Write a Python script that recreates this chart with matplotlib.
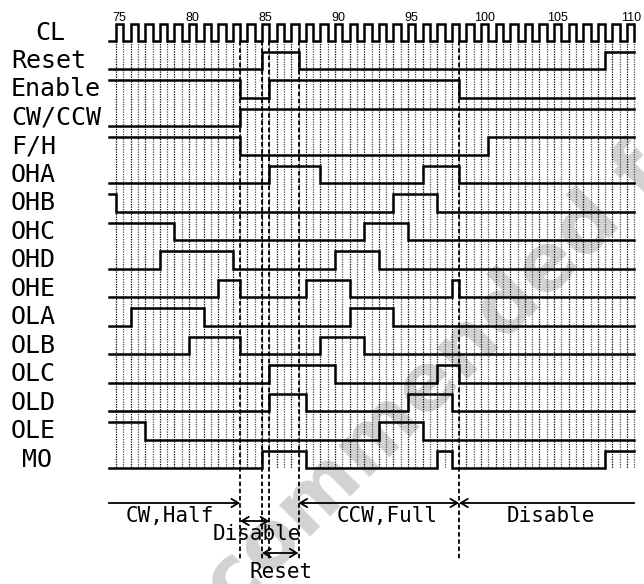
import matplotlib
matplotlib.use("Agg")
import matplotlib.pyplot as plt

# --- DATA ---
SIGNALS = ["CL", "Reset", "Enable", "CW/CCW", "F/H", "OHA", "OHB", "OHC",
           "OHD", "OHE", "OLA", "OLB", "OLC", "OLD", "OLE", "MO"]
CLOCK_CYCLES = list(range(75, 111))
TICK_CYCLES = [75, 80, 85, 90, 95, 100, 105, 110]
T_START, T_END = 74.5, 110.5

# initial level and times at which each signal toggles
INIT = {"Reset": 0, "Enable": 1, "CW/CCW": 0, "F/H": 1,
        "OHA": 0, "OHB": 1, "OHC": 1, "OHD": 0, "OHE": 0,
        "OLA": 0, "OLB": 0, "OLC": 0, "OLD": 0, "OLE": 1, "MO": 0}
TOGGLES = {
    "Reset":  [85.0, 87.5, 108.5],
    "Enable": [83.5, 85.5, 98.5],
    "CW/CCW": [83.5],
    "F/H":    [83.5, 100.5],
    "OHA":    [85.5, 89.0, 96.0, 98.5],
    "OHB":    [75.0, 94.0, 97.0],
    "OHC":    [79.0, 92.0, 95.0],
    "OHD":    [78.0, 83.0, 90.0, 93.0],
    "OHE":    [82.0, 83.5, 88.0, 91.0, 98.0, 98.5],
    "OLA":    [76.0, 81.0, 91.0, 94.0],
    "OLB":    [80.0, 83.5, 89.0, 92.0],
    "OLC":    [85.5, 90.0, 97.0, 98.5],
    "OLD":    [85.5, 88.0, 95.0, 98.0],
    "OLE":    [77.0, 93.0, 96.0],
    "MO":     [85.0, 88.0, 97.0, 98.0, 108.5],
}
MARKERS = [83.5, 85.0, 85.5, 87.5, 98.5]

# --- LAYOUT (pixel units on y, clock cycles on x) ---
W, H = 644, 584
PX_PER_CYCLE = 14.6
X_AT_75 = 116
ROW0, ROW_STEP, AMP = 41, 28.47, 17.5
MONO = "DejaVu Sans Mono"


def wave(init, toggles, start, end):
    xs, ys = [start], [init]
    lvl = init
    for t in toggles:
        xs += [t, t]
        ys += [lvl, 1 - lvl]
        lvl = 1 - lvl
    xs.append(end)
    ys.append(lvl)
    return xs, ys


fig = plt.figure(figsize=(W / 100, H / 100), dpi=100)
ax = fig.add_axes([0, 0, 1, 1])
t0 = 75 - X_AT_75 / PX_PER_CYCLE
ax.set_xlim(t0, t0 + W / PX_PER_CYCLE)
ax.set_ylim(H, 0)
ax.axis("off")

# watermark of the source document
wm = ax.text(t0 + 17 / PX_PER_CYCLE, 830, "Not Recommended for New Designs",
             rotation=45, rotation_mode="anchor", ha="left", va="baseline",
             fontsize=58, fontweight="bold", color="#d2d2d2", zorder=0.5,
             family="DejaVu Sans")
wm.set_clip_on(True)

last_row = ROW0 + ROW_STEP * (len(SIGNALS) - 1)

# grid lines on every clock edge
for n in CLOCK_CYCLES:
    ax.plot([n, n], [ROW0, last_row], color="0.0", lw=0.9,
            ls=(0, (1, 1)), zorder=1)
    ax.plot([n + 0.5, n + 0.5], [ROW0, last_row], color="0.3", lw=0.9,
            ls=(0, (1, 1)), zorder=1)

# dashed markers
for m in MARKERS:
    ax.plot([m, m], [ROW0, 560], color="black", lw=1.3,
            ls=(0, (2.5, 1.5)), zorder=2)

# clock
clk_toggles = []
for n in CLOCK_CYCLES:
    clk_toggles += [n, n + 0.5]
xs, ys = wave(0, clk_toggles, T_START, T_END)
ax.plot(xs, [ROW0 - AMP * y for y in ys], color="black", lw=1.8,
        solid_joinstyle="miter", zorder=3)
for n in TICK_CYCLES:
    ax.text(n + 0.25, 21, str(n), ha="center", va="baseline",
            fontsize=9, family="Liberation Sans")

# signals
for i, name in enumerate(SIGNALS[1:], start=1):
    base = ROW0 + ROW_STEP * i
    xs, ys = wave(INIT[name], TOGGLES[name], T_START, T_END)
    ax.plot(xs, [base - AMP * y for y in ys], color="black", lw=1.8,
            solid_joinstyle="miter", zorder=3)

# signal names
for i, name in enumerate(SIGNALS):
    base = ROW0 + ROW_STEP * i
    xpx = {"CL": 35, "MO": 22}.get(name, 11)
    ax.text(t0 + xpx / PX_PER_CYCLE, base - 1.5, name, ha="left",
            va="baseline", fontsize=18, family=MONO)

# mode annotations
def arrow(x1, x2, y, style):
    ax.annotate("", xy=(x2, y), xytext=(x1, y),
                arrowprops=dict(arrowstyle=style + ",head_length=0.5,head_width=0.3",
                                lw=1.3, color="black", shrinkA=0, shrinkB=0))


arrow(T_START, 83.5, 503, "->")
arrow(87.5, 98.5, 503, "<->")
arrow(98.5, T_END, 503, "<-")
arrow(83.5, 85.5, 521, "<->")
arrow(85.0, 87.5, 553, "<->")

ax.text(78.7, 516, "CW,Half", ha="center", va="center", fontsize=15, family=MONO)
ax.text(93.6, 516, "CCW,Full", ha="center", va="center", fontsize=15, family=MONO)
ax.text(104.8, 516, "Disable", ha="center", va="center", fontsize=15, family=MONO)
ax.text(84.65, 534, "Disable", ha="center", va="center", fontsize=15, family=MONO)
ax.text(86.3, 572, "Reset", ha="center", va="center", fontsize=15, family=MONO)

fig.savefig("out.png", dpi=100)
